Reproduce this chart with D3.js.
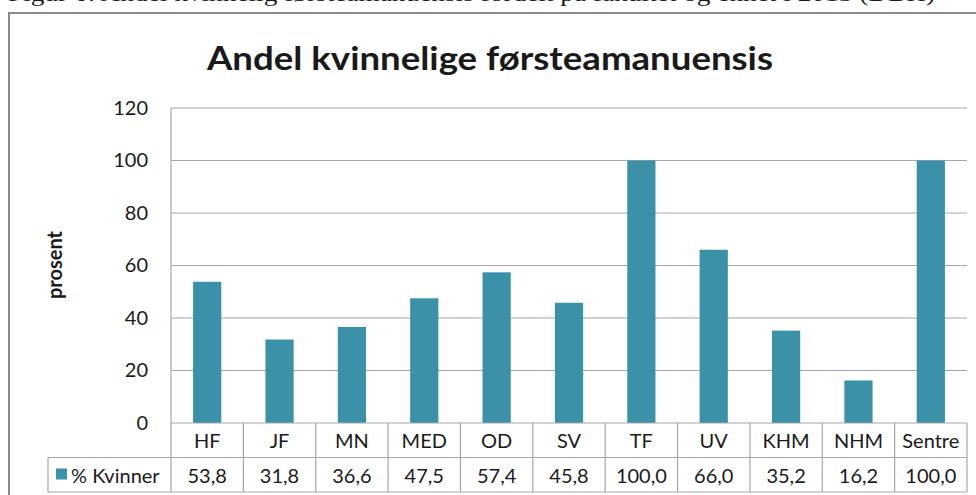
<!DOCTYPE html>
<html>
<head>
    <meta charset="utf-8">
    <title>Andel kvinnelige førsteamanuensis</title>
    <script src="https://d3js.org/d3.v7.min.js"></script>
    <style>
        body { margin: 0; background: #fff; }
        svg { display: block; }
        text { font-family: Lato, "Open Sans", sans-serif; fill: #1a1a1a; }
    </style>
</head>
<body>
    <svg id="chart" width="976" height="495"></svg>

    <script>
        // data
        const categories = ["HF", "JF", "MN", "MED", "OD", "SV", "TF", "UV", "KHM", "NHM", "Sentre"];
        const kvinner = [53.8, 31.8, 36.6, 47.5, 57.4, 45.8, 100.0, 66.0, 35.2, 16.2, 100.0];
        const yTicks = [0, 20, 40, 60, 80, 100, 120];
        const seriesName = "% Kvinner";
        const title = "Andel kvinnelige førsteamanuensis";
        const caption = "Figur 6: Andel kvinnelig førsteamanuensis fordelt på fakultet og enhet i 2013 (DBH)";

        const svg = d3.select("#chart");
        const barColor = "#3a91a8";
        const lineColor = "#a6a6a6";

        const plot = { left: 171, right: 967, top: 108, bottom: 423 };
        const rowH = 34.5;

        const x = d3.scaleBand()
            .domain(categories)
            .range([plot.left, plot.right])
            .paddingInner(0.61)
            .paddingOuter(0.305);
        const y = d3.scaleLinear().domain([0, 120]).range([plot.bottom, plot.top]);

        // caption, cut by the top of the page as in the source figure
        svg.append("text")
            .attr("x", 8).attr("y", 1)
            .attr("textLength", 927).attr("lengthAdjust", "spacingAndGlyphs")
            .style("font-family", "'Liberation Serif', 'DejaVu Serif', serif")
            .style("font-size", "21px")
            .text(caption);

        // chart frame
        svg.append("path")
            .attr("d", "M9,500 V13 H980")
            .attr("fill", "none")
            .attr("stroke", "#8a8a8a")
            .attr("stroke-width", 2);

        // title
        svg.append("text")
            .attr("x", 490).attr("y", 70)
            .attr("text-anchor", "middle")
            .attr("textLength", 566).attr("lengthAdjust", "spacingAndGlyphs")
            .style("font-size", "33px").style("font-weight", "bold")
            .text(title);

        // gridlines
        svg.append("g")
            .selectAll("line")
            .data(yTicks.filter(d => d > 0))
            .join("line")
            .attr("x1", plot.left).attr("x2", plot.right)
            .attr("y1", d => y(d)).attr("y2", d => y(d))
            .attr("stroke", lineColor).attr("stroke-width", 1.2);

        // y axis
        const yAxis = svg.append("g")
            .attr("transform", `translate(${plot.left},0)`)
            .call(d3.axisLeft(y).tickValues(yTicks).tickSize(0).tickPadding(23));
        yAxis.select(".domain").remove();
        yAxis.selectAll("text")
            .style("font-size", "20px")
            .style("font-family", "Lato, sans-serif")
            .attr("fill", "#1a1a1a");

        svg.append("line")
            .attr("x1", plot.left).attr("x2", plot.left)
            .attr("y1", plot.top).attr("y2", plot.bottom + 2 * rowH)
            .attr("stroke", lineColor).attr("stroke-width", 1.2);

        svg.append("text")
            .attr("transform", "translate(62,265) rotate(-90)")
            .attr("text-anchor", "middle")
            .style("font-size", "20px").style("font-weight", "bold")
            .text("prosent");

        // bars
        svg.append("g")
            .selectAll("rect")
            .data(kvinner)
            .join("rect")
            .attr("x", (d, i) => x(categories[i]))
            .attr("width", x.bandwidth())
            .attr("y", d => y(d))
            .attr("height", d => y(0) - y(d))
            .attr("fill", barColor);

        // data table
        const step = x.step();
        const colLeft = c => x(c) - step * x.paddingInner() / 2;
        const legendLeft = 48;
        const table = svg.append("g")
            .attr("stroke", lineColor).attr("stroke-width", 1.2);

        table.append("line")
            .attr("x1", plot.left).attr("x2", plot.right)
            .attr("y1", plot.bottom).attr("y2", plot.bottom);
        table.append("line")
            .attr("x1", legendLeft).attr("x2", plot.right)
            .attr("y1", plot.bottom + rowH).attr("y2", plot.bottom + rowH);
        table.append("line")
            .attr("x1", legendLeft).attr("x2", plot.right)
            .attr("y1", plot.bottom + 2 * rowH).attr("y2", plot.bottom + 2 * rowH);
        table.append("line")
            .attr("x1", legendLeft).attr("x2", legendLeft)
            .attr("y1", plot.bottom + rowH).attr("y2", plot.bottom + 2 * rowH);
        table.selectAll(".col")
            .data(categories)
            .join("line")
            .attr("class", "col")
            .attr("x1", d => colLeft(d) + step).attr("x2", d => colLeft(d) + step)
            .attr("y1", plot.bottom).attr("y2", plot.bottom + 2 * rowH);

        const fmt = v => d3.format(".1f")(v).replace(".", ",");

        svg.append("g")
            .selectAll("text")
            .data(categories)
            .join("text")
            .attr("x", d => x(d) + x.bandwidth() / 2)
            .attr("y", plot.bottom + 25)
            .attr("text-anchor", "middle")
            .style("font-size", "20px")
            .text(d => d);

        svg.append("g")
            .selectAll("text")
            .data(kvinner)
            .join("text")
            .attr("x", (d, i) => x(categories[i]) + x.bandwidth() / 2)
            .attr("y", plot.bottom + rowH + 25)
            .attr("text-anchor", "middle")
            .style("font-size", "20px")
            .text(d => fmt(d));

        // legend key
        svg.append("rect")
            .attr("x", 56).attr("y", plot.bottom + rowH + 11)
            .attr("width", 11).attr("height", 11)
            .attr("fill", barColor);
        svg.append("text")
            .attr("x", 71).attr("y", plot.bottom + rowH + 25)
            .style("font-size", "20px")
            .text(seriesName);
    </script>
</body>
</html>
